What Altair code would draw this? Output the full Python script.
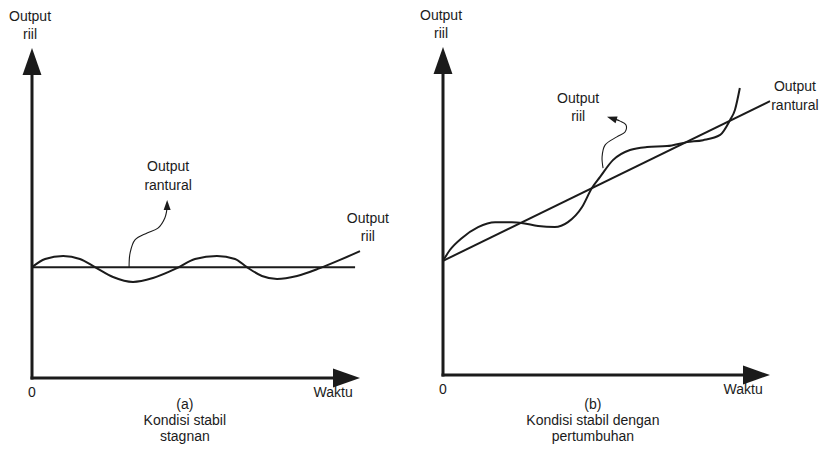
import altair as alt
import pandas as pd

# ---------------- data (time units on x, output units on y) ----------------
# Panel (a): Kondisi stabil stagnan
a_trend_t = [0.0, 9.85]
a_trend_y = [3.38, 3.38]
a_real_t = [0.0, 0.40, 0.95, 1.46, 1.92, 2.47, 3.08, 3.69, 4.42, 4.97, 5.64,
            6.19, 6.55, 7.01, 7.47, 8.08, 8.78, 9.39, 10.0]
a_real_y = [3.38, 3.63, 3.72, 3.63, 3.38, 3.08, 2.93, 3.05, 3.35, 3.63, 3.72,
            3.63, 3.38, 3.11, 3.02, 3.11, 3.35, 3.60, 3.87]
a_note_t = [2.96, 2.99, 3.14, 3.51, 3.84, 4.05, 4.12, 4.12]
a_note_y = [3.38, 3.81, 4.21, 4.42, 4.57, 4.88, 5.21, 5.30]
a_note_tip = (4.12, 5.43)
a_axis_tip = (10.0, 10.06)
a_labels = ["Output", "riil", "Output", "rantural", "Output", "riil", "0", "Waktu",
            "(a)", "Kondisi stabil", "stagnan"]
a_label_t = [-0.06, -0.06, 4.15, 4.15, 10.24, 10.24, 0.0, 9.18, 4.66, 4.66, 4.66]
a_label_y = [11.0, 10.46, 6.43, 5.85, 4.85, 4.30, -0.46, -0.46, -0.82, -1.31, -1.80]

# Panel (b): Kondisi stabil dengan pertumbuhan
b_trend_t = [0.0, 9.97]
b_trend_y = [3.48, 8.35]
b_real_t = [0.0, 0.21, 0.58, 1.07, 1.59, 2.10, 2.44, 2.90, 3.41, 3.81, 4.24, 4.54,
            4.79, 5.18, 5.70, 6.22, 6.83, 7.44, 7.93, 8.45, 8.75, 8.90, 9.05]
b_real_y = [3.48, 3.81, 4.18, 4.51, 4.66, 4.66, 4.63, 4.54, 4.51, 4.66, 5.12, 5.70,
            6.04, 6.55, 6.86, 6.95, 6.98, 7.10, 7.16, 7.32, 7.77, 8.08, 8.75]
b_note_t = [4.88, 4.85, 4.94, 5.30, 5.55, 5.58, 5.40, 5.12]
b_note_y = [6.31, 6.65, 7.01, 7.26, 7.41, 7.62, 7.74, 7.84]
b_note_tip = (5.00, 7.87)
b_axis_tip = (9.97, 10.0)
b_labels = ["Output", "riil", "Output", "riil", "Output", "rantural", "0", "Waktu",
            "(b)", "Kondisi stabil dengan", "pertumbuhan"]
b_label_t = [-0.06, -0.06, 4.12, 4.12, 10.73, 10.73, 0.0, 9.15, 4.57, 4.57, 4.57]
b_label_y = [10.95, 10.40, 8.41, 7.87, 8.78, 8.20, -0.46, -0.46, -0.91, -1.40, -1.89]

# ---------------- layout ----------------
PPU = 32.8          # pixels per unit (same on both axes)
TOP, H = 8, 436
INK = "#1b1b1b"
FONT = "Liberation Sans"
ARROW = "M-1,0L1,-0.7L1,0.7Z"   # arrowhead pointing left, rotated by angle


def head(tip, angle, length):
    import math
    th = math.radians(angle)
    cx = tip[0] + (length / 2) * math.cos(th) / PPU
    cy = tip[1] - (length / 2) * math.sin(th) / PPU
    return dict(x=cx, y=cy, angle=angle, size=length * length)


def panel(left, width, ox, oy, trend_t, trend_y, real_t, real_y, note_t, note_y,
          note_tip, note_angle, axis_tip, labels, label_t, label_y):
    xdom = [(left - ox) / PPU, (left + width - ox) / PPU]
    ydom = [(oy - (TOP + H)) / PPU, (oy - TOP) / PPU]
    xs = alt.Scale(domain=xdom, nice=False, zero=False)
    ys = alt.Scale(domain=ydom, nice=False, zero=False)

    def enc(chart, x="x", y="y"):
        return chart.encode(x=alt.X(f"{x}:Q", scale=xs, axis=None),
                            y=alt.Y(f"{y}:Q", scale=ys, axis=None))

    def line_df(t, v):
        return pd.DataFrame({"x": t, "y": v, "i": range(len(t))})

    xhead = head((axis_tip[0], 0.0), 180, 27)
    yhead = head((0.0, axis_tip[1]), 90, 27)
    nhead = head(note_tip, note_angle, 10)

    axes = pd.DataFrame({
        "x": [0.0, 0.0], "y": [0.0, 0.0],
        "x2": [xhead["x"], 0.0], "y2": [0.0, yhead["y"]],
    })
    heads = pd.DataFrame([xhead, yhead, nhead])
    texts = pd.DataFrame({"x": label_t, "y": label_y, "label": labels})

    axis_rule = enc(alt.Chart(axes).mark_rule(color=INK, strokeWidth=3, strokeCap="square")).encode(
        x2="x2:Q", y2="y2:Q")
    trend = enc(alt.Chart(line_df(trend_t, trend_y)).mark_line(
        color=INK, strokeWidth=2)).encode(order="i:Q")
    real = enc(alt.Chart(line_df(real_t, real_y)).mark_line(
        color=INK, strokeWidth=2, interpolate="monotone")).encode(order="i:Q")
    note = enc(alt.Chart(line_df(note_t, note_y)).mark_line(
        color=INK, strokeWidth=1.1, interpolate="catmull-rom")).encode(order="i:Q")
    arrows = enc(alt.Chart(heads).mark_point(
        shape=ARROW, filled=True, color=INK, opacity=1, strokeWidth=0)).encode(
        size=alt.Size("size:Q", scale=None, legend=None),
        angle=alt.Angle("angle:Q", scale=None))
    text = enc(alt.Chart(texts).mark_text(
        font=FONT, fontSize=14, color=INK, align="center", baseline="middle")).encode(
        text="label:N")

    return alt.layer(axis_rule, trend, real, note, arrows, text).properties(
        width=width, height=H)


pa = panel(8, 400, 32, 378, a_trend_t, a_trend_y, a_real_t, a_real_y,
           a_note_t, a_note_y, a_note_tip, 90, a_axis_tip, a_labels, a_label_t, a_label_y)
pb = panel(408, 411, 443, 375, b_trend_t, b_trend_y, b_real_t, b_real_y,
           b_note_t, b_note_y, b_note_tip, 17, b_axis_tip, b_labels, b_label_t, b_label_y)

chart = alt.hconcat(pa, pb, spacing=0).properties(padding=0, background="white").configure_view(
    stroke=None)

chart.save("out.html", embed_options={"renderer": "svg", "actions": False})
